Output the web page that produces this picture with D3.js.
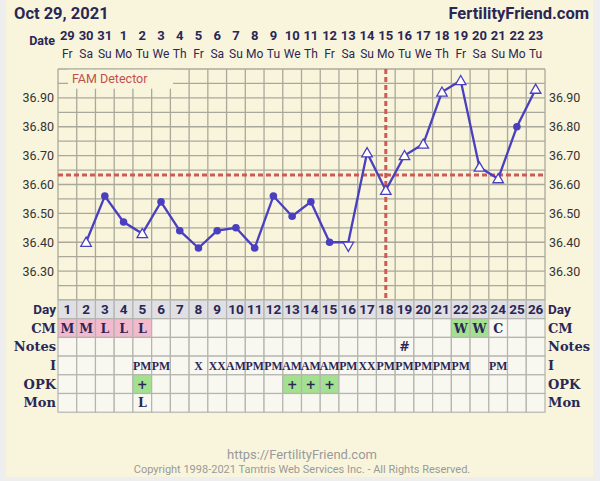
<!DOCTYPE html>
<html><head><meta charset="utf-8">
<script src="https://cdn.jsdelivr.net/npm/d3@7"></script>
<style>
html,body{margin:0;padding:0;background:#eeeeee;}
svg{display:block;}
</style></head>
<body>
<svg id="c" width="600" height="481"></svg>
<script>
const days = [1,2,3,4,5,6,7,8,9,10,11,12,13,14,15,16,17,18,19,20,21,22,23,24,25,26];
const dates = ["29","30","31","1","2","3","4","5","6","7","8","9","10","11","12","13","14","15","16","17","18","19","20","21","22","23"];
const weekdays = ["Fr","Sa","Su","Mo","Tu","We","Th","Fr","Sa","Su","Mo","Tu","We","Th","Fr","Sa","Su","Mo","Tu","We","Th","Fr","Sa","Su","Mo","Tu"];
const temps = [null,36.40,36.56,36.47,36.43,36.54,36.44,36.38,36.44,36.45,36.38,36.56,36.49,36.54,36.40,36.40,36.71,36.58,36.70,36.74,36.92,36.96,36.66,36.62,36.80,36.93];
const markers = [null,"up","dot","dot","up","dot","dot","dot","dot","dot","dot","dot","dot","dot","dot","down","up","up","up","up","up","up","up","up","dot","up"];
const yTicks = [36.30,36.40,36.50,36.60,36.70,36.80,36.90];
const coverline = 36.633;
const ovulationDay = 18;
const cm = ["M","M","L","L","L","","","","","","","","","","","","","","","","","W","W","C","",""];
const notes = ["","","","","","","","","","","","","","","","","","","#","","","","","","",""];
const intercourse = ["","","","","PM","PM","","X","XX","AM","PM","PM","AM","AM","AM","PM","XX","PM","PM","PM","PM","PM","","PM","",""];
const opk = ["","","","","+","","","","","","","","+","+","+","","","","","","","","","","",""];
const mon = ["","","","","L","","","","","","","","","","","","","","","","","","","","",""];
const rowLabels = ["Day","CM","Notes","I","OPK","Mon"];

const svg = d3.select("#c");
const navy = "#2b2755";
const serif = "'DejaVu Serif', serif";
const serif2 = "'Liberation Serif', serif";
const sans = "Roboto, 'Liberation Sans', sans-serif";

svg.append("rect").attr("x",6).attr("y",0).attr("width",587).attr("height",477).attr("fill","#f9f5dc");

const x = d3.scaleBand().domain(days).range([58,545]).padding(0);
const y = d3.scaleLinear().domain([36.2,37.0]).range([300,69]);
const bw = x.bandwidth();

// title
svg.append("text").attr("x",14).attr("y",19).attr("font-family",sans).attr("font-weight","bold")
  .attr("font-size",16.5).attr("fill",navy).text("Oct 29, 2021");
svg.append("text").attr("x",589).attr("y",19).attr("text-anchor","end").attr("font-family",sans).attr("font-weight","bold")
  .attr("font-size",16.5).attr("fill",navy).text("FertilityFriend.com");

// date header
svg.append("text").attr("x",55).attr("y",45).attr("text-anchor","end").attr("font-family",sans).attr("font-weight","bold")
  .attr("font-size",12.5).attr("fill",navy).text("Date");
svg.append("g").selectAll("text").data(days).join("text")
  .attr("x",d=>x(d)+bw/2).attr("y",40).attr("text-anchor","middle").attr("font-family",sans).attr("font-weight","bold")
  .attr("font-size",13).attr("fill",navy).text((d,i)=>dates[i]);
svg.append("g").selectAll("text").data(days).join("text")
  .attr("x",d=>x(d)+bw/2).attr("y",58).attr("text-anchor","middle").attr("font-family",sans)
  .attr("font-size",12).attr("fill",navy).text((d,i)=>weekdays[i]);

// grid
const grid = svg.append("g").attr("stroke","#aaa89a").attr("stroke-width",1.3);
const hLines = d3.range(0,17).map(i=>36.2+i*0.05);
grid.selectAll("line.h").data(hLines).join("line").attr("class","h")
  .attr("x1",58).attr("x2",545).attr("y1",d=>y(d)).attr("y2",d=>y(d));
grid.selectAll("line.v").data(days.concat([27])).join("line").attr("class","v")
  .attr("x1",d=>d<=26?x(d):545).attr("x2",d=>d<=26?x(d):545).attr("y1",y(37.0)).attr("y2",y(36.2));

// FAM detector box
svg.append("rect").attr("x",68).attr("y",69.7).attr("width",105).attr("height",19).attr("fill","#f9f5dc");
svg.append("text").attr("x",72).attr("y",83).attr("font-family",sans).attr("font-size",12.5).attr("fill","#c0504d").text("FAM Detector");

// y tick labels
svg.append("g").selectAll("text").data(yTicks).join("text")
  .attr("x",54).attr("y",d=>y(d)+4.5).attr("text-anchor","end").attr("font-family",sans).attr("font-size",12.5).attr("fill","#333")
  .text(d=>d.toFixed(2));
svg.append("g").selectAll("text").data(yTicks).join("text")
  .attr("x",549).attr("y",d=>y(d)+4.5).attr("font-family",sans).attr("font-size",12.5).attr("fill","#333")
  .text(d=>d.toFixed(2));

// coverline & ovulation line
svg.append("line").attr("x1",58).attr("x2",545).attr("y1",y(coverline)).attr("y2",y(coverline))
  .attr("stroke","#cf5a55").attr("stroke-width",3).attr("stroke-dasharray","5,3");
svg.append("line").attr("x1",x(ovulationDay)+bw/2).attr("x2",x(ovulationDay)+bw/2).attr("y1",y(37.0)).attr("y2",y(36.2))
  .attr("stroke","#cf5a55").attr("stroke-width",3).attr("stroke-dasharray","5,3");

// temperature line
const pts = days.map((d,i)=>({d, t:temps[i], m:markers[i]}));
const lineColor = "#4a3fbf";
svg.append("path").datum(pts)
  .attr("d", d3.line().defined(p=>p.t!==null).x(p=>x(p.d)+bw/2).y(p=>y(p.t)))
  .attr("fill","none").attr("stroke",lineColor).attr("stroke-width",2.3);
const valid = pts.filter(p=>p.t!==null);
svg.append("g").selectAll("circle").data(valid.filter(p=>p.m==="dot")).join("circle")
  .attr("cx",p=>x(p.d)+bw/2).attr("cy",p=>y(p.t)).attr("r",3.8).attr("fill",lineColor);
const tri = d3.symbol().type(d3.symbolTriangle).size(48);
svg.append("g").selectAll("path").data(valid.filter(p=>p.m==="up"||p.m==="down")).join("path")
  .attr("d",tri)
  .attr("transform",p=>p.m==="up" ? `translate(${x(p.d)+bw/2},${y(p.t)+1})` : `translate(${x(p.d)+bw/2},${y(p.t)+3}) rotate(180)`)
  .attr("fill","#ffffff").attr("stroke",lineColor).attr("stroke-width",1.3);

// table
const rowH = 18.7;
const tTop = 300;
const rows = [days.map(String), cm, notes, intercourse, opk, mon];
const tg = svg.append("g");
rows.forEach((r,ri)=>{
  const yy = tTop + ri*rowH;
  tg.append("g").selectAll("rect").data(days).join("rect")
    .attr("x",d=>x(d)).attr("y",yy).attr("width",bw).attr("height",rowH)
    .attr("fill",(d,i)=>{
      if(ri===0) return "#dfdfe4";
      const v = r[i];
      if(ri===1 && (v==="M"||v==="L")) return "#f3b9cc";
      if(ri===1 && v==="W") return "#a3e08f";
      if(ri===4 && v==="+") return "#a3e08f";
      return "#f8f8f1";
    })
    .attr("stroke","#b4b4b0").attr("stroke-width",1.2);
});
rows.forEach((r,ri)=>{
  const yy = tTop + ri*rowH;
  tg.append("g").selectAll("text").data(days).join("text")
    .attr("x",d=>x(d)+bw/2).attr("y",yy+rowH/2+4.6).attr("text-anchor","middle")
    .attr("font-family",ri===0?sans:(ri===3?serif2:serif)).attr("font-weight","bold")
    .attr("font-size",ri===0?13.5:(ri===3?11.8:12.5)).attr("fill",navy)
    .text((d,i)=>r[i]);
  tg.append("text").attr("x",56).attr("y",yy+rowH/2+4.6).attr("text-anchor","end")
    .attr("font-family",ri===0?sans:serif).attr("font-weight","bold").attr("font-size",ri===0?13.5:13)
    .attr("fill",navy).text(rowLabels[ri]);
  tg.append("text").attr("x",548).attr("y",yy+rowH/2+4.6)
    .attr("font-family",ri===0?sans:serif).attr("font-weight","bold").attr("font-size",ri===0?13.5:13)
    .attr("fill",navy).text(rowLabels[ri]);
});

// footer
svg.append("text").attr("x",302).attr("y",459).attr("text-anchor","middle").attr("font-family",sans)
  .attr("font-size",13).attr("fill","#9a9a9a").text("https://FertilityFriend.com");
svg.append("text").attr("x",302).attr("y",473).attr("text-anchor","middle").attr("font-family",sans)
  .attr("font-size",11).attr("fill","#9a9a9a").text("Copyright 1998-2021 Tamtris Web Services Inc. - All Rights Reserved.");
</script>
</body></html>
